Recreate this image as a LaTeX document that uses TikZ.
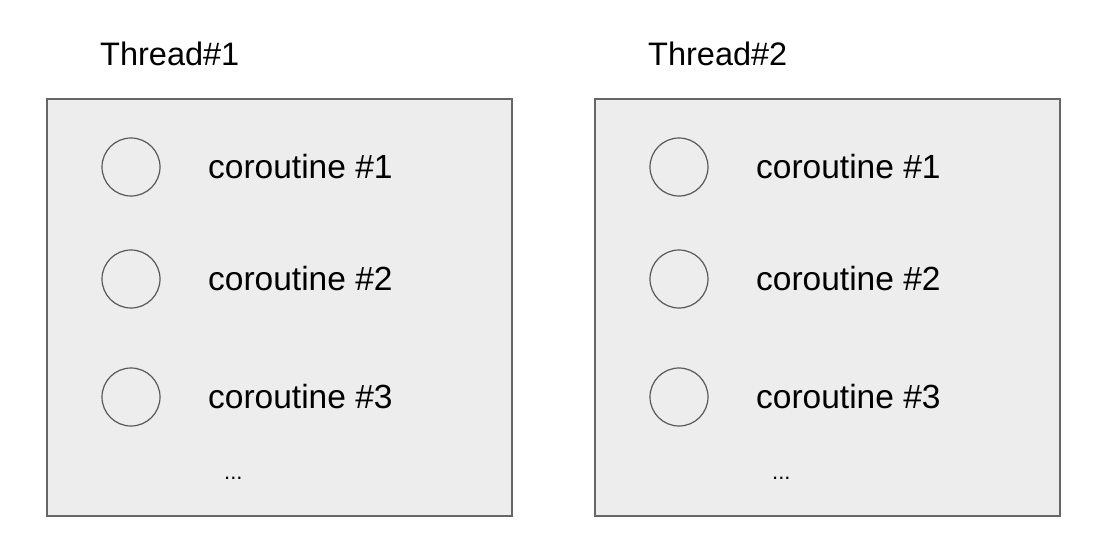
\documentclass[tikz,border=0pt]{standalone}
\usepackage{fontspec}
\setmainfont{Liberation Sans}
\tikzset{
  threadbox/.style={draw=black!60, fill=black!7, line width=1.5pt},
  cocircle/.style={draw=black!65, circle, minimum size=58pt, inner sep=0pt, line width=1.2pt},
  colabel/.style={anchor=base west, inner sep=0pt, font=\fontsize{33.5}{40}\selectfont},
  threadlabel/.style={anchor=base west, inner sep=0pt, font=\fontsize{32.5}{39}\selectfont},
  dotslabel/.style={anchor=base west, inner sep=0pt, font=\fontsize{22}{26}\selectfont}
}
\begin{document}
\begin{tikzpicture}[x=1pt, y=-1pt]
    \useasboundingbox (0,0) rectangle (1105,554);
    % thread 1
    \draw [threadbox] (47,99) rectangle (512,516);
    \node (t1) at (100,65) [threadlabel] {Thread\#1};
    \node (c11) at (131,167) [cocircle] {};
    \node (c12) at (131,279) [cocircle] {};
    \node (c13) at (131,397) [cocircle] {};
    \node (l11) at (208,178) [colabel] {coroutine \#1};
    \node (l12) at (208,290) [colabel] {coroutine \#2};
    \node (l13) at (208,408) [colabel] {coroutine \#3};
    \node (d1) at (224,479) [dotslabel] {...};
    % thread 2
    \draw [threadbox] (595,99) rectangle (1060,516);
    \node (t2) at (648,65) [threadlabel] {Thread\#2};
    \node (c21) at (679,167) [cocircle] {};
    \node (c22) at (679,279) [cocircle] {};
    \node (c23) at (679,397) [cocircle] {};
    \node (l21) at (756,178) [colabel] {coroutine \#1};
    \node (l22) at (756,290) [colabel] {coroutine \#2};
    \node (l23) at (756,408) [colabel] {coroutine \#3};
    \node (d2) at (772,479) [dotslabel] {...};
\end{tikzpicture}
\end{document}
